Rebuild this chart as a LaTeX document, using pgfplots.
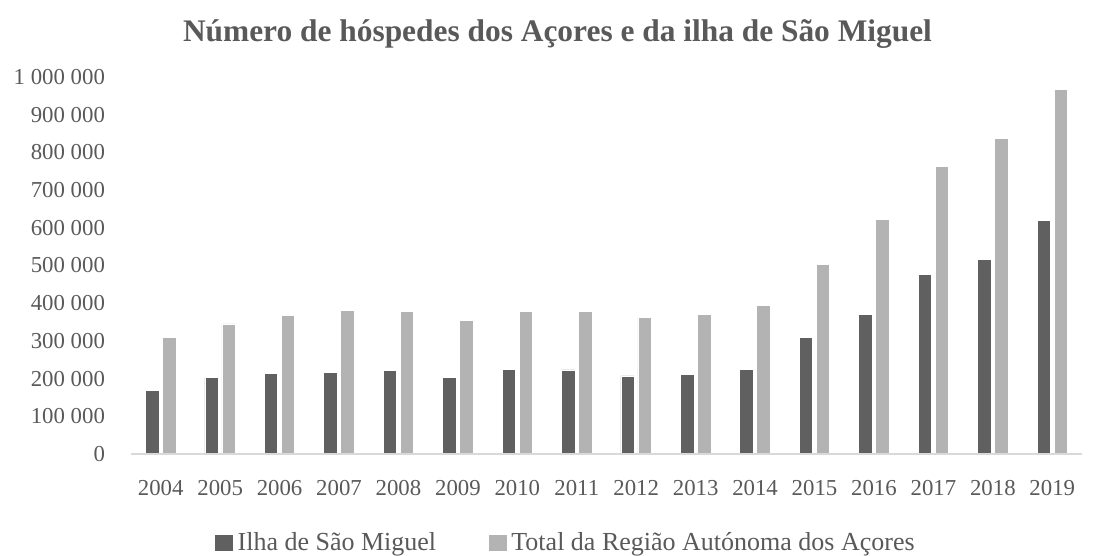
\documentclass[border=0pt]{standalone}
\usepackage{fontspec}
\setmainfont{Liberation Serif}
\usepackage{pgfplots}
\pgfplotsset{compat=1.18}
\definecolor{darkbar}{RGB}{96,96,96}
\definecolor{lightbar}{RGB}{179,179,179}
\definecolor{txt}{RGB}{89,89,89}
\definecolor{axisgray}{RGB}{217,217,217}
\begin{document}
\begin{tikzpicture}
\useasboundingbox (-65.5pt,-51pt) rectangle (483pt,227pt);
\begin{axis}[
  at={(0,0)}, anchor=south west,
  scale only axis,
  width=475.5pt, height=188.5pt,
  ybar, bar width=6.75pt,
  xmin=-0.5, xmax=15.5,
  ymin=0, ymax=1000000,
  xtick={0,...,15},
  xticklabels={2004,2005,2006,2007,2008,2009,2010,2011,2012,2013,2014,2015,2016,2017,2018,2019},
  ytick={0,100000,...,1000000},
  scaled y ticks=false,
  yticklabel style={/pgf/number format/fixed, /pgf/number format/1000 sep={\ }, /pgf/number format/assume math mode=true, xshift=-9.5pt},
  xticklabel style={/pgf/number format/assume math mode=true, yshift=-9.5pt},
  tick label style={font=\fontsize{11.4}{13}\selectfont, text=txt},
  major tick length=0pt,
  axis x line*=bottom,
  axis y line*=left,
  y axis line style={draw=none},
  x axis line style={draw=axisgray, line width=1pt, -},
  axis on top,
  legend style={at={(0.458,-0.236)}, anchor=center, draw=none, fill=none,
    legend columns=2, font=\fontsize{13}{15}\selectfont, text=txt,
    /tikz/every even column/.append style={column sep=24pt}},
  legend image code/.code={\fill[#1] (0pt,-4.2pt) rectangle (9.2pt,4.2pt);},
]
\addplot[fill=darkbar, draw=white, line width=0.4pt, bar shift=-4.25pt] coordinates {
(0,169000) (1,202000) (2,213000) (3,217000) (4,221000) (5,202000) (6,224000) (7,223000)
(8,207000) (9,211000) (10,224000) (11,308000) (12,369000) (13,476000) (14,515000) (15,620000)};
\addplot[fill=lightbar, draw=white, line width=0.4pt, bar shift=4.25pt] coordinates {
(0,310000) (1,345000) (2,367000) (3,381000) (4,379000) (5,355000) (6,378000) (7,379000)
(8,362000) (9,369000) (10,393000) (11,502000) (12,622000) (13,763000) (14,836000) (15,966000)};
\legend{Ilha de São Miguel, Total da Região Autónoma dos Açores}
\end{axis}
\node[text=txt, font=\bfseries\fontsize{15.7}{18}\selectfont] at (213.25pt,210pt) {Número de hóspedes dos Açores e da ilha de São Miguel};
\end{tikzpicture}
\end{document}
